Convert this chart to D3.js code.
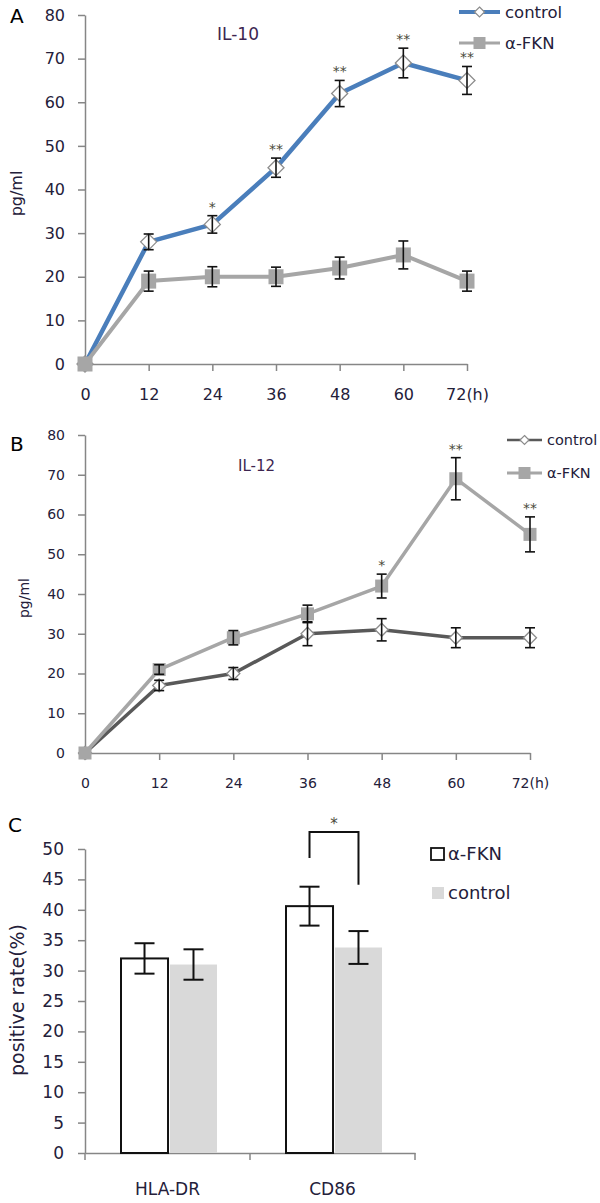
<!DOCTYPE html>
<html><head><meta charset="utf-8">
<script src="https://cdn.jsdelivr.net/npm/d3@7"></script>
<style>body{margin:0;background:#fff}svg{display:block}text{font-family:"DejaVu Sans",Verdana,sans-serif}</style>
</head><body><svg id="c" width="600" height="1203"></svg>
<script>
// ---------- data ----------
const hours = [0, 12, 24, 36, 48, 60, 72];
const hourLabels = ["0", "12", "24", "36", "48", "60", "72(h)"];
const lineTicks = [0, 10, 20, 30, 40, 50, 60, 70, 80];

const il10Control    = [0, 28, 32, 45, 62, 69, 65];
const il10ControlErr = [0, 1.8, 2, 2.2, 3, 3.4, 3.2];
const il10Fkn        = [0, 19, 20, 20, 22, 25, 19];
const il10FknErr     = [0, 2.3, 2.3, 2.2, 2.5, 3.2, 2.3];
const il10Stars      = ["", "", "*", "**", "**", "**", "**"];

const il12Control    = [0, 17, 20, 30, 31, 29, 29];
const il12ControlErr = [0, 1.3, 1.5, 3, 2.8, 2.5, 2.5];
const il12Fkn        = [0, 21, 29, 35, 42, 69, 55];
const il12FknErr     = [0, 1.2, 1.8, 2.2, 3, 5.3, 4.4];
const il12Stars      = ["", "", "", "", "*", "**", "**"];

const surfaceMarkers = ["HLA-DR", "CD86"];
const barTicks       = [0, 5, 10, 15, 20, 25, 30, 35, 40, 45, 50];
const fknRate        = [32, 40.6];
const fknRateErr     = [2.5, 3.2];
const controlRate    = [31, 33.8];
const controlRateErr = [2.5, 2.7];

// ---------- drawing ----------
const svg = d3.select("#c");
svg.append("rect").attr("width", 600).attr("height", 1203).attr("fill", "#fff");
const AXIS = "#868686", TXT = "#24203a", STAR = "#4a4a3a";

function styleAxis(g, fs) {
  g.attr("font-family", null).attr("font-size", null);
  g.select(".domain").attr("stroke", AXIS).attr("stroke-width", 1.5);
  g.selectAll(".tick line").attr("stroke", AXIS).attr("stroke-width", 1.5);
  g.selectAll(".tick text").attr("fill", TXT).attr("font-size", fs)
    .attr("font-family", "DejaVu Sans");
}

function diamond(cx, cy, r) {
  return `M${cx},${cy - r}L${cx + r},${cy}L${cx},${cy + r}L${cx - r},${cy}Z`;
}

function linePanel(p) {
  const x = d3.scaleLinear().domain([0, 72]).range([p.x0, p.x1]);
  const y = d3.scaleLinear().domain([0, 80]).range([p.y0, p.y1]);

  const gy = svg.append("g").attr("transform", `translate(${p.x0},0)`)
    .call(d3.axisLeft(y).tickValues(lineTicks).tickSize(7).tickSizeOuter(0).tickPadding(13));
  styleAxis(gy, p.fs);
  const gx = svg.append("g").attr("transform", `translate(0,${p.y0})`)
    .call(d3.axisBottom(x).tickValues(hours).tickFormat((d, i) => hourLabels[i])
      .tickSize(7).tickSizeOuter(0).tickPadding(18));
  styleAxis(gx, p.fs);

  const line = d3.line().x((d, i) => x(hours[i])).y(d => y(d));
  p.series.forEach(s => {
    svg.append("path").datum(s.values).attr("d", line).attr("fill", "none")
      .attr("stroke", s.color).attr("stroke-width", s.width)
      .attr("stroke-linejoin", "round").attr("stroke-linecap", "round");
    s.values.forEach((v, i) => {
      const cx = x(hours[i]), cy = y(v);
      if (s.marker === "diamond") {
        svg.append("path").attr("d", diamond(cx, cy, s.size / 2))
          .attr("fill", "#fff").attr("stroke", "#8c8c8c").attr("stroke-width", 1.3);
      } else {
        svg.append("rect").attr("x", cx - s.size / 2).attr("y", cy - s.size / 2)
          .attr("width", s.size).attr("height", s.size).attr("fill", s.color);
      }
    });
  });
  // error bars
  p.series.forEach(s => {
    s.values.forEach((v, i) => {
      const e = s.err[i];
      if (!e) return;
      const cx = x(hours[i]);
      const g = svg.append("g").attr("stroke", "#111").attr("stroke-width", 1.6);
      g.append("line").attr("x1", cx).attr("x2", cx).attr("y1", y(v + e)).attr("y2", y(v - e));
      g.append("line").attr("x1", cx - 5).attr("x2", cx + 5).attr("y1", y(v + e)).attr("y2", y(v + e));
      g.append("line").attr("x1", cx - 5).attr("x2", cx + 5).attr("y1", y(v - e)).attr("y2", y(v - e));
    });
  });
  // stars above the significant series
  const sig = p.series[p.starSeries];
  p.stars.forEach((st, i) => {
    if (!st) return;
    svg.append("text").attr("x", x(hours[i])).attr("y", y(sig.values[i] + sig.err[i]) - 4)
      .attr("text-anchor", "middle").attr("font-size", 14).attr("fill", STAR).text(st);
  });

  // panel letter, title, y label
  svg.append("text").attr("x", 10).attr("y", p.letterY).attr("font-size", 20).attr("fill", "#000").text(p.letter);
  svg.append("text").attr("x", p.titleX).attr("y", p.titleY).attr("font-size", p.titleFs).attr("fill", "#3d2550").text(p.title);
  svg.append("text").attr("transform", `translate(${p.labX},${(p.y0 + p.y1) / 2 + 4}) rotate(-90)`)
    .attr("text-anchor", "middle").attr("dy", "0.35em").attr("font-size", p.fs).attr("fill", TXT).text("pg/ml");

  // legend
  p.series.forEach((s, k) => {
    const ly = p.legY[k];
    svg.append("line").attr("x1", p.legX0).attr("x2", p.legX1).attr("y1", ly).attr("y2", ly)
      .attr("stroke", s.color).attr("stroke-width", s.legW);
    const cx = (p.legX0 + p.legX1) / 2;
    if (s.marker === "diamond") {
      svg.append("path").attr("d", diamond(cx, ly, s.legSize / 2)).attr("fill", "#fff")
        .attr("stroke", "#8c8c8c").attr("stroke-width", 1.2);
    } else {
      svg.append("rect").attr("x", cx - s.legSize / 2).attr("y", ly - s.legSize / 2)
        .attr("width", s.legSize).attr("height", s.legSize).attr("fill", s.color);
    }
    svg.append("text").attr("x", p.legX1 + 5).attr("y", ly).attr("dy", "0.35em")
      .attr("font-size", p.legFs).attr("fill", TXT).text(s.name);
  });
}

linePanel({
  x0: 85, x1: 467, y0: 364, y1: 15, fs: 16,
  letter: "A", letterY: 23, title: "IL-10", titleX: 217, titleY: 40, titleFs: 17, labX: 16,
  legX0: 459, legX1: 500, legY: [12, 43], legFs: 16.5,
  starSeries: 0, stars: il10Stars,
  series: [
    { name: "control", values: il10Control, err: il10ControlErr, color: "#4a7ebb", width: 4.5,
      marker: "diamond", size: 16, legW: 4, legSize: 10 },
    { name: "α-FKN", values: il10Fkn, err: il10FknErr, color: "#a6a6a6", width: 4,
      marker: "square", size: 15, legW: 3, legSize: 12 }
  ]
});

linePanel({
  x0: 85, x1: 530, y0: 753, y1: 435, fs: 14,
  letter: "B", letterY: 451, title: "IL-12", titleX: 238, titleY: 471, titleFs: 15, labX: 24,
  legX0: 507, legX1: 542, legY: [440, 473], legFs: 14.5,
  starSeries: 1, stars: il12Stars,
  series: [
    { name: "control", values: il12Control, err: il12ControlErr, color: "#595959", width: 3.5,
      marker: "diamond", size: 13, legW: 2.5, legSize: 9 },
    { name: "α-FKN", values: il12Fkn, err: il12FknErr, color: "#a6a6a6", width: 3.5,
      marker: "square", size: 13, legW: 3, legSize: 12 }
  ]
});

// ---------- panel C ----------
(function () {
  const xC = d3.scaleBand().domain(surfaceMarkers).range([85, 415]);
  const yC = d3.scaleLinear().domain([0, 50]).range([1153, 849]);
  const sub = d3.scaleBand().domain(["fkn", "ctrl"]).range([36, 132]).paddingInner(0.04);

  const gy = svg.append("g").attr("transform", "translate(85,0)")
    .call(d3.axisLeft(yC).tickValues(barTicks).tickSize(7).tickSizeOuter(0).tickPadding(14));
  styleAxis(gy, 17);
  const gx = svg.append("g").attr("transform", "translate(0,1153)")
    .call(d3.axisBottom(xC).tickSize(0).tickSizeOuter(0).tickPadding(30));
  styleAxis(gx, 17);
  const bounds = surfaceMarkers.map(c => xC(c)).concat([xC.range()[1]]);
  bounds.forEach(b => {
    svg.append("line").attr("x1", b).attr("x2", b).attr("y1", 1153).attr("y2", 1160)
      .attr("stroke", AXIS).attr("stroke-width", 1.5);
  });

  const bw = sub.bandwidth();
  surfaceMarkers.forEach((c, i) => {
    const xf = xC(c) + sub("fkn"), xc = xC(c) + sub("ctrl");
    svg.append("rect").attr("x", xc).attr("y", yC(controlRate[i])).attr("width", bw)
      .attr("height", yC(0) - yC(controlRate[i])).attr("fill", "#d9d9d9");
    svg.append("rect").attr("x", xf).attr("y", yC(fknRate[i])).attr("width", bw)
      .attr("height", yC(0) - yC(fknRate[i])).attr("fill", "#fff").attr("stroke", "#111").attr("stroke-width", 2);
    [[xf, fknRate[i], fknRateErr[i]], [xc, controlRate[i], controlRateErr[i]]].forEach(([bx, v, e]) => {
      const cx = bx + bw / 2;
      const g = svg.append("g").attr("stroke", "#111").attr("stroke-width", 2);
      g.append("line").attr("x1", cx).attr("x2", cx).attr("y1", yC(v + e)).attr("y2", yC(v - e));
      g.append("line").attr("x1", cx - 10).attr("x2", cx + 10).attr("y1", yC(v + e)).attr("y2", yC(v + e));
      g.append("line").attr("x1", cx - 10).attr("x2", cx + 10).attr("y1", yC(v - e)).attr("y2", yC(v - e));
    });
  });
  // significance bracket for CD86
  const bxL = xC("CD86") + sub("fkn") + bw / 2, bxR = xC("CD86") + sub("ctrl") + bw / 2;
  const bTop = yC(52.8), bL = yC(48.5), bR = yC(44.1);
  svg.append("path").attr("d", `M${bxL},${bL}V${bTop}H${bxR}V${bR}`).attr("fill", "none")
    .attr("stroke", "#111").attr("stroke-width", 2);
  svg.append("text").attr("x", (bxL + bxR) / 2).attr("y", bTop - 3).attr("text-anchor", "middle")
    .attr("font-size", 15).attr("fill", STAR).text("*");

  svg.append("text").attr("x", 8).attr("y", 832).attr("font-size", 20).attr("fill", "#000").text("C");
  svg.append("text").attr("transform", `translate(17,1000) rotate(-90)`).attr("text-anchor", "middle")
    .attr("dy", "0.35em").attr("font-size", 19).attr("fill", TXT).text("positive rate(%)");

  // legend
  svg.append("rect").attr("x", 431).attr("y", 848).attr("width", 13).attr("height", 12)
    .attr("fill", "#fff").attr("stroke", "#111").attr("stroke-width", 1.8);
  svg.append("text").attr("x", 448).attr("y", 854).attr("dy", "0.35em").attr("font-size", 18).attr("fill", TXT).text("α-FKN");
  svg.append("rect").attr("x", 432).attr("y", 887).attr("width", 12).attr("height", 12).attr("fill", "#d9d9d9");
  svg.append("text").attr("x", 448).attr("y", 893).attr("dy", "0.35em").attr("font-size", 18).attr("fill", TXT).text("control");
})();
</script>
</body></html>
